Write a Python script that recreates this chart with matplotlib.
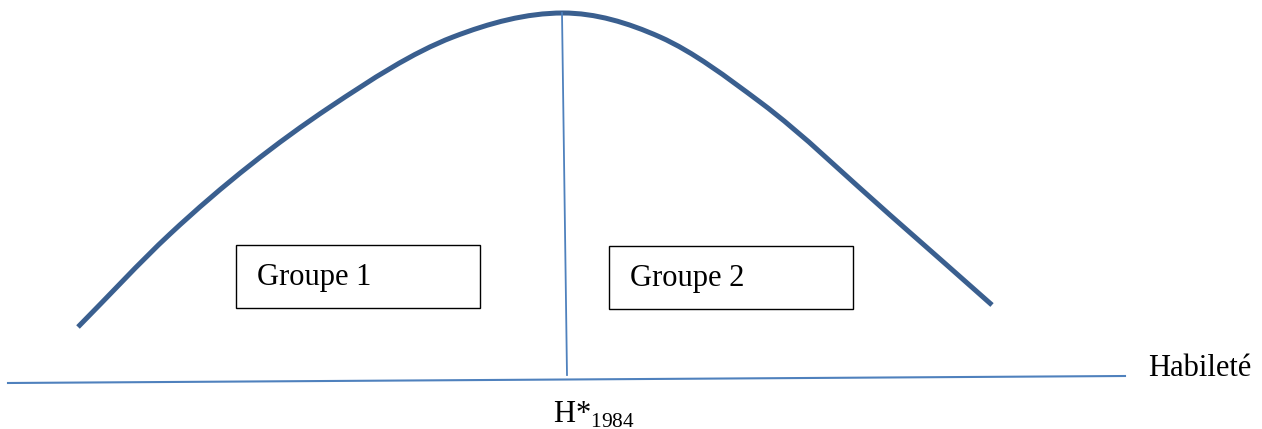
import numpy as np
import matplotlib.pyplot as plt
from matplotlib.path import Path
from matplotlib.patches import PathPatch, Rectangle

# bell curve (pixel coords, y down)
curve_x = [78, 170, 330, 453, 563, 660, 760, 890, 992]
curve_y = [327, 234, 107, 37, 13, 37, 102, 215, 305]

# axis line and the H* marker
axis_x = [8, 1125]
axis_y = [383, 376]
marker_x = [562, 567]
marker_y = [13, 375]

# group boxes: label, left, top, right, bottom
groups = ["Groupe 1", "Groupe 2"]
box_left = [236, 609]
box_top = [245, 246]
box_right = [480, 853]
box_bottom = [308, 309]

plt.rcParams['font.family'] = ['Liberation Serif', 'DejaVu Serif']

fig = plt.figure(figsize=(12.62, 4.29), dpi=100)
ax = fig.add_axes([0, 0, 1, 1])
ax.set_xlim(0, 1262)
ax.set_ylim(429, 0)
ax.axis('off')

# smooth curve through the read points: hermite tangents -> bezier segments
x = np.array(curve_x, float)
y = np.array(curve_y, float)
h = np.diff(x)
d = np.diff(y) / h
m = np.empty_like(x)
m[0], m[-1] = d[0], d[-1]
m[1:-1] = (d[:-1] * h[1:] + d[1:] * h[:-1]) / (h[:-1] + h[1:])
m[int(np.argmin(y))] = 0.0
verts = [(x[0], y[0])]
codes = [Path.MOVETO]
for i in range(len(x) - 1):
    verts += [(x[i] + h[i] / 3, y[i] + m[i] * h[i] / 3),
              (x[i + 1] - h[i] / 3, y[i + 1] - m[i + 1] * h[i] / 3),
              (x[i + 1], y[i + 1])]
    codes += [Path.CURVE4] * 3
ax.add_patch(PathPatch(Path(verts, codes), fill=False, edgecolor='#3A5F8F',
                       lw=3.6, capstyle='butt'))

ax.plot(axis_x, axis_y, color='#4F81BD', lw=1.5)
ax.plot(marker_x, marker_y, color='#4F81BD', lw=1.3)

for lab, l, t, r, b in zip(groups, box_left, box_top, box_right, box_bottom):
    ax.add_patch(Rectangle((l, t), r - l, b - t, fill=False, edgecolor='black', lw=1.0))
    ax.text(l + 21, (t + b) / 2 + 1, lab, fontsize=22, va='center', ha='left')

ax.text(1148, 368, "Habileté", fontsize=22, va='center', ha='left')
ax.text(553, 415, r"H*$_{\mathregular{1984}}$", fontsize=22, va='center', ha='left')

fig.savefig('out.png', dpi=100)
